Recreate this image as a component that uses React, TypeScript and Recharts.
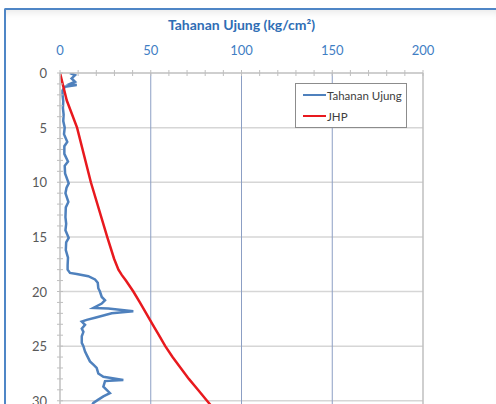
import React from "react";
import {
  ComposedChart,
  Line,
  XAxis,
  YAxis,
  ReferenceLine,
  Legend,
} from "recharts";

// Tahanan Ujung (cone resistance) readings, depth in m
const tahananDepth = [
  0, 0.2, 0.5, 0.8, 1.0, 1.1, 1.25, 1.6, 2.0, 2.6, 3.2, 3.8, 4.4, 5.0, 5.6,
  6.3, 6.7, 7.4, 8.1, 8.5, 9.2, 10.1, 10.5, 11.0, 11.8, 12.3, 13.2, 13.8,
  14.4, 15.1, 15.5, 16.2, 16.9, 17.6, 18.0, 18.3, 18.4, 18.6, 18.9, 19.2,
  19.7, 20.0, 20.5, 20.8, 21.1, 21.5, 21.55, 21.8, 22.0, 22.4, 22.6, 22.75,
  23.05, 23.4, 23.7, 24.1, 24.7, 25.0, 25.5, 25.8, 26.4, 26.7, 27.0, 27.5,
  27.8, 28.1, 28.2, 28.7, 29.3, 29.6, 29.9, 30.2, 30.6, 31.0,
];
const tahananValue = [
  5.5, 8.3, 6.4, 8.3, 5.5, 9.2, 2.8, 1.4, 1.4, 1.8, 1.6, 2.0, 1.8, 2.6, 2.2,
  4.0, 2.4, 2.4, 4.4, 2.6, 2.8, 4.8, 3.6, 3.0, 4.6, 3.2, 3.0, 3.4, 3.0, 4.8,
  3.4, 3.2, 4.4, 4.2, 4.2, 5.5, 9.2, 15.6, 19.3, 20.8, 21.1, 22.0, 23.0,
  24.8, 23.0, 18.4, 26.6, 40.4, 28.5, 19.3, 14.7, 12.0, 13.8, 12.0, 12.9,
  12.0, 12.0, 12.9, 13.8, 14.7, 16.5, 18.4, 20.2, 21.1, 23.9, 34.9, 24.8,
  23.9, 27.5, 23.9, 21.1, 18.4, 17.0, 16.0,
];

// JHP (jumlah hambatan pelekat)
const jhpDepth = [0, 2.5, 5, 10, 15, 17, 18, 18.5, 19, 20, 21, 22, 23, 24, 25, 26, 27, 28, 29, 30, 32];
const jhpValue = [0, 3.7, 9.4, 17, 26, 29.8, 32.2, 34.1, 36.3, 40.4, 44, 47.5, 51, 54.5, 58, 62, 66.5, 71, 76, 81, 91];

const resistanceTicks = Array.from({ length: 21 }, (_, i) => i * 10);
const depthTicks = Array.from({ length: 41 }, (_, i) => i);
const resistanceGrid = [50, 100, 150];
const depthGrid = [5, 10, 15, 20, 25, 30, 35];

const tahananData = tahananDepth.map((depth, i) => ({ depth, value: tahananValue[i] }));
const jhpData = jhpDepth.map((depth, i) => ({ depth, value: jhpValue[i] }));

const FONT = "Lato, 'Open Sans', sans-serif";
const BLUE = "#4F81BD";
const RED = "#E8191E";
const AXIS = "#BFBFBF";

const TopTick = (props: any) => {
  const { x, y, payload } = props;
  const major = payload.value % 50 === 0;
  return (
    <g>
      <line x1={x} x2={x} y1={y - 3} y2={y + 3} stroke={AXIS} />
      {major && (
        <text x={x} y={y - 23} textAnchor="middle" dominantBaseline="central" fill="#3F7EC4" fontSize={13} fontFamily={FONT}>
          {payload.value}
        </text>
      )}
    </g>
  );
};

const SideTick = (side: "left" | "right") => (props: any) => {
  const { x, y, payload } = props;
  const major = payload.value % 5 === 0;
  return (
    <g>
      <line x1={x - 3} x2={x + 3} y1={y} y2={y} stroke={AXIS} />
      {major && (
        <text
          x={side === "left" ? x - 13 : x + 12}
          y={y}
          textAnchor={side === "left" ? "end" : "start"}
          dominantBaseline="central"
          fill="#595959"
          fontSize={13}
          fontFamily={FONT}
        >
          {payload.value}
        </text>
      )}
    </g>
  );
};

const LegendBox = () => (
  <div
    style={{
      border: "1px solid #8C8C8C",
      background: "#fff",
      width: 110,
      height: 43,
      boxSizing: "content-box",
      fontFamily: FONT,
      fontSize: 11.5,
      color: "#404040",
      position: "relative",
    }}
  >
    {[
      { name: "Tahanan Ujung", color: BLUE, top: 11 },
      { name: "JHP", color: RED, top: 32 },
    ].map((item) => (
      <div key={item.name} style={{ position: "absolute", left: 7, top: item.top - 7, display: "flex", alignItems: "center", height: 14 }}>
        <span style={{ display: "inline-block", width: 23, height: 2.5, background: item.color, marginRight: 1 }} />
        <span>{item.name}</span>
      </div>
    ))}
  </div>
);

const App: React.FC = () => {
  return (
    <div
      style={{
        position: "fixed",
        left: 4,
        top: 8,
        width: 492,
        height: 396,
        overflow: "hidden",
        borderLeft: "2px solid #4F86C6",
        borderTop: "2px solid #4F86C6",
        borderTopLeftRadius: 2,
        background: "#fff",
        boxShadow: "inset 0 8px 8px -6px rgba(0,0,0,0.10)",
        boxSizing: "border-box",
      }}
    >
      <ComposedChart
        width={490}
        height={520}
        layout="vertical"
        margin={{ top: 0, right: 0, bottom: 20, left: 0 }}
        style={{ position: "absolute", left: 0, top: 0 }}
      >
        <XAxis
          type="number"
          orientation="top"
          domain={[0, 200]}
          ticks={resistanceTicks}
          interval={0}
          height={63}
          tickSize={0}
          tickMargin={0}
          tickLine={false}
          axisLine={{ stroke: AXIS, strokeWidth: 1.5 }}
          tick={<TopTick />}
          allowDataOverflow
          label={{
            value: "Tahanan Ujung (kg/cm²)",
            position: "insideTop",
            offset: 10,
            fill: "#2F6EB5",
            fontSize: 14,
            fontWeight: 700,
            fontFamily: FONT,
          }}
        />
        <YAxis
          yAxisId="left"
          type="number"
          dataKey="depth"
          orientation="left"
          domain={[0, 40]}
          ticks={depthTicks}
          interval={0}
          width={54}
          tickSize={0}
          tickMargin={0}
          tickLine={false}
          axisLine={{ stroke: AXIS, strokeWidth: 1.5 }}
          tick={SideTick("left")}
          allowDataOverflow
        />
        <YAxis
          yAxisId="right"
          type="number"
          orientation="right"
          domain={[0, 40]}
          ticks={depthTicks}
          interval={0}
          width={73}
          tickSize={0}
          tickMargin={0}
          tickLine={false}
          axisLine={{ stroke: AXIS, strokeWidth: 1.5 }}
          tick={SideTick("right")}
          allowDataOverflow
        />
        {depthGrid.map((d) => (
          <ReferenceLine key={`h${d}`} yAxisId="left" y={d} stroke="#D6D6D6" strokeWidth={1.5} />
        ))}
        {resistanceGrid.map((v) => (
          <ReferenceLine key={`v${v}`} yAxisId="left" x={v} stroke="#8C9FC4" strokeWidth={1} />
        ))}
        <Legend
          layout="vertical"
          align="center"
          verticalAlign="middle"
          content={<LegendBox />}
          wrapperStyle={{ position: "absolute", left: 289, top: 73, right: "auto", bottom: "auto", width: 112, height: 45 }}
        />
        <Line
          yAxisId="left"
          data={tahananData}
          dataKey="value"
          name="Tahanan Ujung"
          stroke={BLUE}
          strokeWidth={2.5}
          dot={false}
          isAnimationActive={false}
        />
        <Line
          yAxisId="left"
          data={jhpData}
          dataKey="value"
          name="JHP"
          stroke={RED}
          strokeWidth={2.5}
          dot={false}
          isAnimationActive={false}
        />
      </ComposedChart>
    </div>
  );
};

export default App;
